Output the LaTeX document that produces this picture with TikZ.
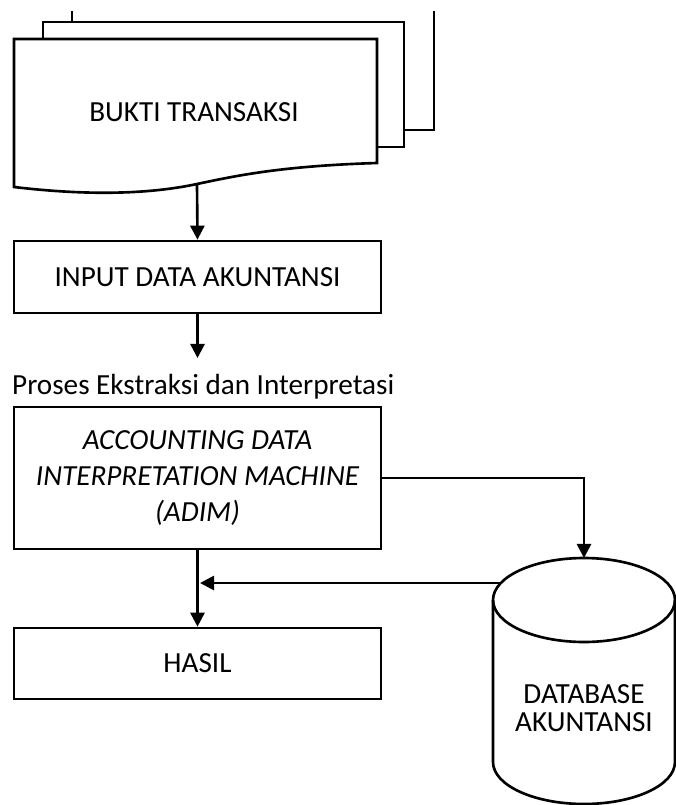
\documentclass[tikz,border=0pt]{standalone}
\usepackage{fontspec}
\setmainfont{Carlito}
\usetikzlibrary{arrows.meta}
\tikzset{every edge/.style={draw, line width=1.5pt}}
\tikzset{kotak/.style={draw, line width=1.5pt, minimum width=7.34cm, align=center, font=\fontsize{16.6}{20.5}\selectfont}}
\tikzset{teks/.style={align=center, font=\fontsize{16.6}{16.2}\selectfont}}

\begin{document}
\begin{tikzpicture}[x=0.02cm, y=-0.02cm, line width=1.5pt, >={Triangle[width=8pt,length=8pt]}]
    \useasboundingbox (0,0) rectangle (676,805);

    % tumpukan bukti transaksi
    \draw (72,22) -- (72,11);
    \draw (434,11) -- (434,130) -- (404,130);
    \draw (43,39) -- (43,22) -- (404,22) -- (404,147) -- (377,147);
    \draw[fill=white] (14,39) -- (377,39) -- (377,163) .. controls (280,166) and (235,176) .. (197,184)
        .. controls (150,194) and (90,196) .. (14,187) -- cycle;
    \node[teks] at (194,112) (bukti) {BUKTI TRANSAKSI};
    \coordinate (bukti-out) at (197,184);

    \node[kotak, minimum height=1.44cm] at (197.5,277) (input) {INPUT DATA AKUNTANSI};
    \coordinate (proses-in) at (197.5,358);
    \node[anchor=west, font=\fontsize{16.6}{18}\selectfont] at (5,387) (proses) {Proses Ekstraksi dan Interpretasi};
    \node[kotak, minimum height=2.84cm] at (197.5,478) (adim)
        {\itshape ACCOUNTING DATA\\ \itshape INTERPRETATION MACHINE\\ \itshape (ADIM)};
    \node[kotak, minimum height=1.42cm] at (197.5,663.5) (hasil) {HASIL};

    % database
    \draw (493,600) -- (493,762) arc[start angle=180, end angle=360, x radius=1.82cm, y radius=0.84cm] -- (675,600);
    \draw (584,600) ellipse [x radius=1.82cm, y radius=0.84cm];
    \node[teks] at (584,708) (db) {DATABASE\\AKUNTANSI};
    \coordinate (db-top) at (584,558);
    \coordinate (db-left) at (500,583);
    \coordinate (gabung) at (200,583);

    \draw (bukti-out) edge[->] (input.north);
    \draw (input.south) edge[->] (proses-in);
    \draw (adim.south) edge[->] (hasil.north);
    \draw (db-left) edge[->] (gabung);
    \draw[->] (adim.east) -| (db-top);
\end{tikzpicture}
\end{document}
